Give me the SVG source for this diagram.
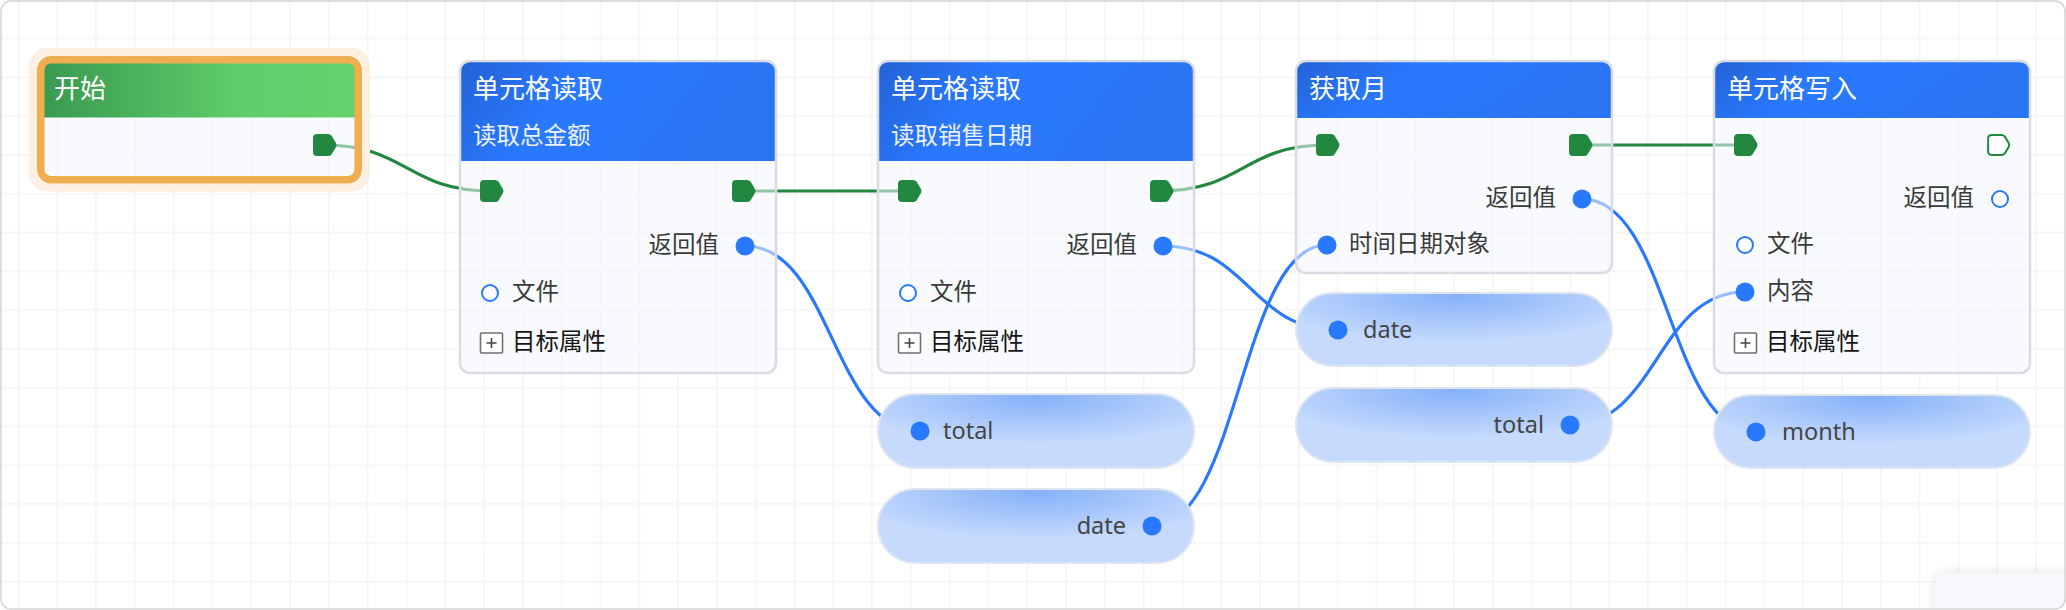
<svg xmlns="http://www.w3.org/2000/svg" width="2066" height="610" viewBox="0 0 2066 610">
<style>
text{font-family:"Noto Sans","Noto Sans CJK SC",sans-serif}
.title{font-size:26px;fill:#ffffff}
.sub{font-size:23.5px;fill:#eef3ff}
.lbl{font-size:23.5px;fill:#3a3a3a}
.attr{font-size:23.5px;fill:#151515}
.ptxt{font-size:23.5px;fill:#454545}
.body{fill:#f2f5fc;fill-opacity:0.55}
.border{fill:none;stroke:#d9dce3;stroke-width:2.5}
.hdr{fill:url(#hdrg)}
.dot{fill:#2979ff}
.hollow{fill:#ffffff;stroke:#2979ff;stroke-width:2}
.exec{fill:#23883f}
.pbox{fill:#ffffff;stroke:#707070;stroke-width:1.6}
.plus{stroke:#444;stroke-width:1.6}
.pill{fill:url(#pillg);stroke:#dfe5ee;stroke-width:2}
.ce{fill:none;stroke:#23883f;stroke-width:3.2}
.cd{fill:none;stroke:#2979ff;stroke-width:3.2}
</style>
<defs>
<pattern id="grid" width="38.8" height="38.8" patternUnits="userSpaceOnUse" x="17.6" y="37.7">
<path d="M0.75,0 V38.8 M0,0.75 H38.8" stroke="#f4f4f4" stroke-width="1.5" fill="none"/>
</pattern>
<linearGradient id="hdrg" x1="0" y1="0" x2="1" y2="0.25">
<stop offset="0" stop-color="#2462d6"/>
<stop offset="0.4" stop-color="#2979ff"/>
<stop offset="1" stop-color="#2a74f2"/>
</linearGradient>
<linearGradient id="startg" x1="0" y1="0" x2="1" y2="0">
<stop offset="0" stop-color="#3a9a50"/>
<stop offset="0.65" stop-color="#5fcf6b"/>
<stop offset="1" stop-color="#62d26c"/>
</linearGradient>
<radialGradient id="pillg" cx="0.5" cy="0.05" r="0.62">
<stop offset="0" stop-color="#86b1f9"/>
<stop offset="0.55" stop-color="#a9c8fb"/>
<stop offset="1" stop-color="#c5dafd"/>
</radialGradient>
<path id="ex" d="M-7,-11 H4 Q6,-11 7.5,-9.5 L12,-2 Q13,0 12,2 L7.5,9.5 Q6,11 4,11 H-7 Q-11,11 -11,7 V-7 Q-11,-11 -7,-11 Z"/>
<clipPath id="frame"><rect x="1" y="1" width="2064" height="608" rx="10"/></clipPath>
<filter id="sh" x="-20%" y="-50%" width="140%" height="200%">
<feDropShadow dx="0" dy="0" stdDeviation="6" flood-color="#000" flood-opacity="0.12"/>
</filter>
</defs>

<g id="background">
<rect x="0" y="0" width="2066" height="610" fill="#ffffff"/>
<rect x="1" y="1" width="2064" height="608" rx="10" fill="url(#grid)"/>
</g>

<g id="connectors">
<path class="ce" d="M324,145 C407,145 407,191 491,191"/>
<path class="ce" d="M742,191 H909"/>
<path class="ce" d="M1160,191 C1243,191 1243,145 1327,145"/>
<path class="ce" d="M1580,145 H1745"/>
<path class="cd" d="M745,246 C832,246 832,431 920,431"/>
<path class="cd" d="M1163,246 C1250,246 1250,330 1338,330"/>
<path class="cd" d="M1152,526 C1240,526 1240,245 1327,245"/>
<path class="cd" d="M1582,199 C1669,199 1669,432 1756,432"/>
<path class="cd" d="M1570,425 C1657,425 1657,292 1745,292"/>
</g>

<g id="start">
<rect x="33" y="52" width="333" height="135.5" rx="14" fill="none" stroke="#fdf0e2" stroke-width="8"/>
<rect x="44" y="63" width="311" height="114" rx="6" class="body"/>
<path d="M44,117.5 V69 A6,6 0 0 1 50,63 H349 A6,6 0 0 1 355,69 V117.5 Z" fill="url(#startg)"/>
<rect x="40.8" y="59.7" width="317.4" height="120" rx="10" fill="none" stroke="#f1ae50" stroke-width="7.5"/>
<text class="title" x="54" y="98">开始</text>
<use href="#ex" x="324" y="145" class="exec"/>
</g>

<g id="node1" transform="translate(460,61)">
<rect x="0" y="0" width="316" height="312" rx="10" class="body"/>
<path class="hdr" d="M0,100 V10 A10,10 0 0 1 10,0 H306 A10,10 0 0 1 316,10 V100 Z"/>
<rect x="0" y="0" width="316" height="312" rx="10" class="border"/>
<text class="title" x="13" y="37">单元格读取</text>
<text class="sub" x="13" y="83">读取总金额</text>
<use href="#ex" x="31" y="130" class="exec"/>
<use href="#ex" x="283" y="130" class="exec"/>
<text class="lbl" x="259" y="192" text-anchor="end">返回值</text>
<circle class="dot" cx="285" cy="185" r="9.5"/>
<circle class="hollow" cx="30" cy="232" r="8"/>
<text class="lbl" x="52" y="239">文件</text>
<rect class="pbox" x="20.5" y="272" width="22" height="20" rx="1"/>
<path class="plus" d="M26.5,282 H36.5 M31.5,277 V287"/>
<text class="attr" x="52" y="289">目标属性</text>
</g>

<g id="node2" transform="translate(878,61)">
<rect x="0" y="0" width="316" height="312" rx="10" class="body"/>
<path class="hdr" d="M0,100 V10 A10,10 0 0 1 10,0 H306 A10,10 0 0 1 316,10 V100 Z"/>
<rect x="0" y="0" width="316" height="312" rx="10" class="border"/>
<text class="title" x="13" y="37">单元格读取</text>
<text class="sub" x="13" y="83">读取销售日期</text>
<use href="#ex" x="31" y="130" class="exec"/>
<use href="#ex" x="283" y="130" class="exec"/>
<text class="lbl" x="259" y="192" text-anchor="end">返回值</text>
<circle class="dot" cx="285" cy="185" r="9.5"/>
<circle class="hollow" cx="30" cy="232" r="8"/>
<text class="lbl" x="52" y="239">文件</text>
<rect class="pbox" x="20.5" y="272" width="22" height="20" rx="1"/>
<path class="plus" d="M26.5,282 H36.5 M31.5,277 V287"/>
<text class="attr" x="52" y="289">目标属性</text>
</g>

<g id="node3" transform="translate(1296,61)">
<rect x="0" y="0" width="316" height="212" rx="10" class="body"/>
<path class="hdr" d="M0,57 V10 A10,10 0 0 1 10,0 H306 A10,10 0 0 1 316,10 V57 Z"/>
<rect x="0" y="0" width="316" height="212" rx="10" class="border"/>
<text class="title" x="13" y="37">获取月</text>
<use href="#ex" x="31" y="84" class="exec"/>
<use href="#ex" x="284" y="84" class="exec"/>
<text class="lbl" x="260" y="145" text-anchor="end">返回值</text>
<circle class="dot" cx="286" cy="138" r="9.5"/>
<circle class="dot" cx="31" cy="184" r="9.5"/>
<text class="lbl" x="53" y="191">时间日期对象</text>
</g>

<g id="node4" transform="translate(1714,61)">
<rect x="0" y="0" width="316" height="312" rx="10" class="body"/>
<path class="hdr" d="M0,57 V10 A10,10 0 0 1 10,0 H306 A10,10 0 0 1 316,10 V57 Z"/>
<rect x="0" y="0" width="316" height="312" rx="10" class="border"/>
<text class="title" x="13" y="37">单元格写入</text>
<use href="#ex" x="31" y="84" class="exec"/>
<use href="#ex" x="284" y="84" fill="#ffffff" stroke="#23883f" stroke-width="2.2" transform="translate(284,84) scale(0.9) translate(-284,-84)"/>
<text class="lbl" x="260" y="145" text-anchor="end">返回值</text>
<circle class="hollow" cx="286" cy="138" r="8"/>
<circle class="hollow" cx="31" cy="184" r="8"/>
<text class="lbl" x="53" y="191">文件</text>
<circle class="dot" cx="31" cy="231" r="9.5"/>
<text class="lbl" x="53" y="238">内容</text>
<rect class="pbox" x="20.5" y="272" width="22" height="20" rx="1"/>
<path class="plus" d="M26.5,282 H36.5 M31.5,277 V287"/>
<text class="attr" x="52" y="289">目标属性</text>
</g>

<g id="pill-total1">
<rect class="pill" x="878" y="394" width="316" height="74" rx="37"/>
<circle class="dot" cx="920" cy="431" r="9.5"/>
<text class="ptxt" x="943" y="439">total</text>
</g>
<g id="pill-date1">
<rect class="pill" x="878" y="489" width="316" height="74" rx="37"/>
<circle class="dot" cx="1152" cy="526" r="9.5"/>
<text class="ptxt" x="1126" y="534" text-anchor="end">date</text>
</g>
<g id="pill-date2">
<rect class="pill" x="1296" y="293" width="316" height="73" rx="36.5"/>
<circle class="dot" cx="1338" cy="330" r="9.5"/>
<text class="ptxt" x="1363" y="338">date</text>
</g>
<g id="pill-total2">
<rect class="pill" x="1296" y="388" width="316" height="74" rx="37"/>
<circle class="dot" cx="1570" cy="425" r="9.5"/>
<text class="ptxt" x="1544" y="433" text-anchor="end">total</text>
</g>
<g id="pill-month">
<rect class="pill" x="1714" y="395" width="316" height="73" rx="36.5"/>
<circle class="dot" cx="1756" cy="432" r="9.5"/>
<text class="ptxt" x="1782" y="440">month</text>
</g>

<g id="corner-panel" clip-path="url(#frame)">
<rect x="1935" y="573" width="160" height="70" rx="12" fill="#f7f8fc" filter="url(#sh)"/>
</g>
<rect id="frame-border" x="1" y="1" width="2064" height="608" rx="10" fill="none" stroke="#d4d4d4" stroke-width="1.5"/>
</svg>
